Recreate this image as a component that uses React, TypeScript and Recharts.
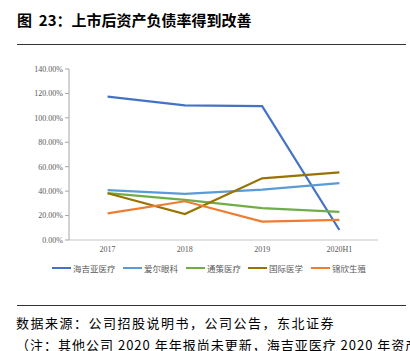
import React from 'react';
import { LineChart, Line, XAxis, YAxis, Legend } from 'recharts';

const categories = ['2017', '2018', '2019', '2020H1'];
const seriesNames = ['海吉亚医疗', '爱尔眼科', '通策医疗', '国际医学', '锦欣生殖'];
const haijiya = [117.4, 110.3, 109.6, 8.2];
const aier = [40.9, 37.8, 41.3, 46.6];
const tongce = [38.3, 32.8, 26.1, 23.0];
const guoji = [38.3, 21.3, 50.5, 55.3];
const jinxin = [21.8, 31.7, 15.0, 16.4];
const colors = ['#4472C4', '#5B9BD5', '#70AD47', '#997300', '#ED7D31'];
const yTicks = [0, 20, 40, 60, 80, 100, 120, 140];

const seriesValues = [haijiya, aier, tongce, guoji, jinxin];
const data = categories.map((c, i) => {
  const row: Record<string, string | number> = { name: c };
  seriesNames.forEach((s, k) => {
    row[s] = seriesValues[k][i];
  });
  return row;
});

const serif = '"Liberation Serif", "Noto Sans CJK SC", serif';
const cjk = '"Noto Sans CJK SC", sans-serif';
const legendLeft = [52, 123, 186, 248, 311];

const LegendContent = () => (
  <div style={{ position: 'relative', width: 410, height: 22, fontFamily: cjk, fontSize: 8.5, color: '#595959' }}>
    {seriesNames.map((s, i) => (
      <div key={s} style={{ position: 'absolute', left: legendLeft[i], top: 4, display: 'flex', alignItems: 'center', whiteSpace: 'nowrap' }}>
        <svg width={19} height={4} style={{ marginRight: 2, display: 'block' }}>
          <line x1={0} y1={2} x2={19} y2={2} stroke={colors[i]} strokeWidth={2} />
        </svg>
        <span style={{ lineHeight: '12px' }}>{s}</span>
      </div>
    ))}
  </div>
);

export default function App() {
  return (
    <div style={{ position: 'absolute', left: 0, top: 0, width: 410, height: 351, background: '#fff', overflow: 'hidden' }}>
      <div style={{ position: 'absolute', left: 17, top: 9, fontFamily: cjk, fontWeight: 'bold', fontSize: 15, color: '#000', whiteSpace: 'nowrap' }}>
        图&nbsp;&nbsp;23：上市后资产负债率得到改善
      </div>
      <div style={{ position: 'absolute', left: 17, top: 44, width: 389, height: 1, background: '#333' }} />
      <div style={{ position: 'absolute', left: 0, top: 0 }}>
        <LineChart width={410} height={280} data={data} margin={{ top: 69, right: 32, left: 0, bottom: 0 }}>
          <XAxis
            dataKey="name"
            padding={{ left: 38.6, right: 38.6 }}
            tickLine={false}
            tickSize={4}
            tickMargin={2}
            axisLine={{ stroke: '#d9d9d9', strokeWidth: 1.5 }}
            tick={{ fontSize: 8, fill: '#595959', fontFamily: serif }}
            height={18}
            interval={0}
          />
          <YAxis
            domain={[0, 140]}
            ticks={yTicks}
            width={69}
            tickSize={4}
            tickMargin={2}
            tickLine={{ stroke: '#a6a6a6' }}
            axisLine={{ stroke: '#a6a6a6' }}
            tick={{ fontSize: 8, fill: '#595959', fontFamily: serif }}
            tickFormatter={(v: number) => v.toFixed(2) + '%'}
          />
          <Legend verticalAlign="bottom" height={22} content={<LegendContent />} wrapperStyle={{ left: 0, width: 410 }} />
          {seriesNames.map((s, i) => (
            <Line key={s} dataKey={s} stroke={colors[i]} strokeWidth={2.2} dot={false} isAnimationActive={false} />
          ))}
        </LineChart>
      </div>
      <div style={{ position: 'absolute', left: 17, top: 305, width: 389, height: 1, background: '#333' }} />
      <div style={{ position: 'absolute', left: 16, top: 313, fontFamily: cjk, fontSize: 13, letterSpacing: 1.5, color: '#000', whiteSpace: 'nowrap' }}>
        数据来源：公司招股说明书，公司公告，东北证券
      </div>
      <div style={{ position: 'absolute', left: 16, top: 335, fontFamily: cjk, fontSize: 13, letterSpacing: 1, color: '#000', whiteSpace: 'nowrap' }}>
        （注：其他公司 2020 年年报尚未更新，海吉亚医疗 2020 年资产负债率为 2020 年中报数据）
      </div>
    </div>
  );
}
